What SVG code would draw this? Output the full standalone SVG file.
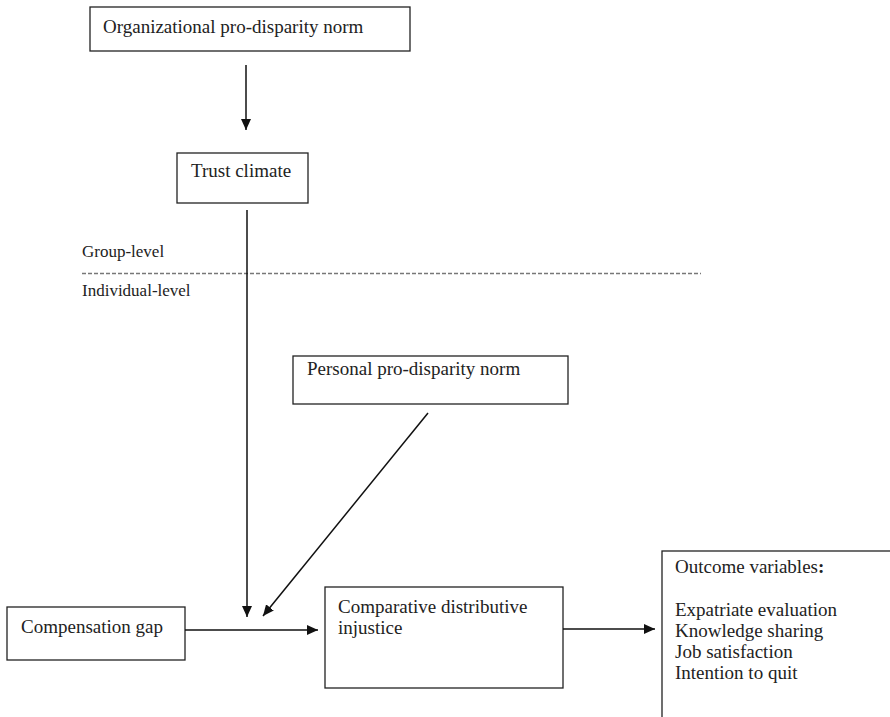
<svg xmlns="http://www.w3.org/2000/svg" width="890" height="717" viewBox="0 0 890 717">
<style>
.box{fill:#fff;stroke:#222;stroke-width:1.3}
.t{font-family:"Liberation Serif","Times New Roman",serif;font-size:19px;fill:#222}
.s{font-family:"Liberation Serif","Times New Roman",serif;font-size:17px;fill:#222}
.c{stroke:#111;stroke-width:1.5;fill:none;marker-end:url(#ah)}
</style>
<defs>
<marker id="ah" markerUnits="userSpaceOnUse" markerWidth="11" markerHeight="10" refX="11" refY="5" orient="auto">
<path d="M0,0 L11,5 L0,10 z" fill="#111"/>
</marker>
</defs>
<g id="org-norm">
<rect class="box" x="90" y="7" width="320" height="44"/>
<text class="t" x="103" y="33">Organizational pro-disparity norm</text>
</g>
<g id="trust-climate">
<rect class="box" x="177" y="153" width="131" height="50"/>
<text class="t" x="191" y="177">Trust climate</text>
</g>
<g id="levels">
<text class="s" x="82" y="257">Group-level</text>
<line x1="82" y1="273.5" x2="701" y2="273.5" stroke="#777" stroke-width="1.3" stroke-dasharray="4,2"/>
<text class="s" x="82" y="296">Individual-level</text>
</g>
<g id="personal-norm">
<rect class="box" x="293" y="356" width="275" height="48"/>
<text class="t" x="307" y="375">Personal pro-disparity norm</text>
</g>
<g id="compensation-gap">
<rect class="box" x="7" y="607" width="178" height="53"/>
<text class="t" x="21" y="633">Compensation gap</text>
</g>
<g id="comparative-injustice">
<rect class="box" x="325" y="587" width="238" height="101"/>
<text class="t" x="338" y="613">Comparative distributive</text>
<text class="t" x="338" y="634">injustice</text>
</g>
<g id="outcomes">
<rect class="box" x="662" y="551" width="240" height="180"/>
<text class="t" x="675" y="573">Outcome variables<tspan font-weight="bold">:</tspan></text>
<text class="t" x="675" y="616">Expatriate evaluation</text>
<text class="t" x="675" y="637">Knowledge sharing</text>
<text class="t" x="675" y="658">Job satisfaction</text>
<text class="t" x="675" y="679">Intention to quit</text>
</g>
<g id="connectors">
<line class="c" x1="246" y1="65" x2="246" y2="130"/>
<line class="c" x1="247" y1="210" x2="247" y2="617"/>
<line class="c" x1="428" y1="413" x2="263" y2="616"/>
<line class="c" x1="185" y1="630" x2="318" y2="630"/>
<line class="c" x1="563" y1="629" x2="655" y2="629"/>
</g>
</svg>
